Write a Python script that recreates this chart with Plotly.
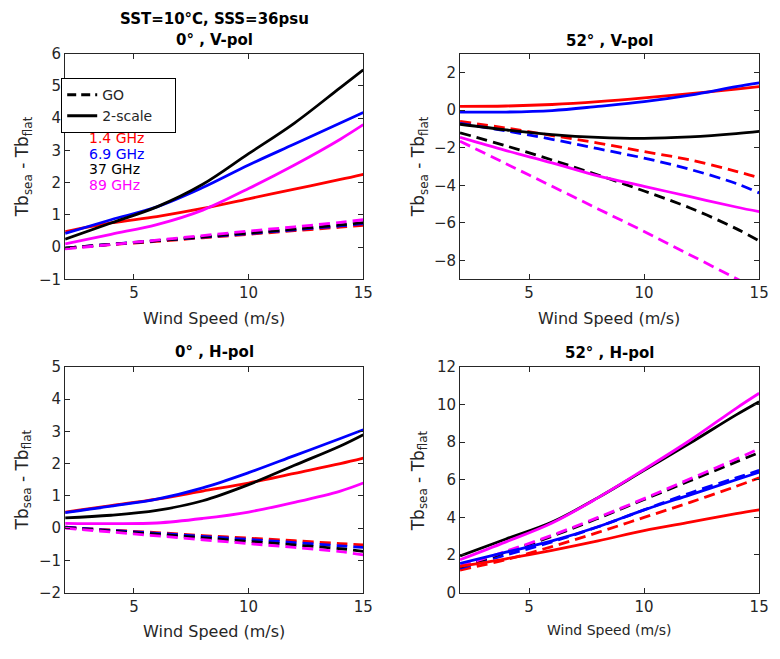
import plotly.graph_objects as go

# ---------------- data ----------------
wind = [2, 4, 6, 8, 10, 12, 14, 15]
freqs = ["1.4 GHz", "6.9 GHz", "37 GHz", "89 GHz"]
colors = ["#ff0000", "#0000ff", "#000000", "#ff00ff"]

# 0 deg, V-pol
v0_2scale_14 = [0.48, 0.75, 0.95, 1.2, 1.5, 1.8, 2.1, 2.26]
v0_2scale_69 = [0.43, 0.85, 1.25, 1.85, 2.55, 3.2, 3.85, 4.18]
v0_2scale_37 = [0.25, 0.75, 1.25, 1.95, 2.9, 3.85, 4.95, 5.5]
v0_2scale_89 = [0.1, 0.4, 0.7, 1.15, 1.82, 2.55, 3.35, 3.8]
v0_go_14 = [-0.03, 0.08, 0.18, 0.29, 0.4, 0.51, 0.62, 0.68]
v0_go_69 = [-0.03, 0.09, 0.2, 0.31, 0.42, 0.54, 0.66, 0.73]
v0_go_37 = [-0.03, 0.09, 0.2, 0.32, 0.44, 0.56, 0.69, 0.76]
v0_go_89 = [-0.05, 0.08, 0.22, 0.36, 0.5, 0.63, 0.77, 0.85]

# 52 deg, V-pol
v52_2scale_14 = [0.2, 0.22, 0.3, 0.45, 0.65, 0.88, 1.12, 1.25]
v52_2scale_69 = [-0.1, -0.1, -0.02, 0.2, 0.45, 0.8, 1.25, 1.45]
v52_2scale_37 = [-0.75, -1.05, -1.3, -1.45, -1.5, -1.42, -1.25, -1.13]
v52_2scale_89 = [-1.45, -2.15, -2.8, -3.5, -4.05, -4.6, -5.15, -5.4]
v52_go_14 = [-0.6, -0.95, -1.35, -1.75, -2.2, -2.65, -3.25, -3.6]
v52_go_69 = [-0.7, -1.1, -1.55, -2.05, -2.55, -3.15, -3.9, -4.4]
v52_go_37 = [-1.2, -1.9, -2.65, -3.45, -4.3, -5.2, -6.3, -6.95]
v52_go_89 = [-1.65, -2.85, -4.05, -5.25, -6.45, -7.7, -8.95, -9.6]

# 0 deg, H-pol
h0_2scale_14 = [0.5, 0.7, 0.9, 1.15, 1.4, 1.7, 2.0, 2.17]
h0_2scale_69 = [0.48, 0.68, 0.9, 1.25, 1.72, 2.25, 2.78, 3.05]
h0_2scale_37 = [0.32, 0.4, 0.55, 0.85, 1.35, 1.95, 2.55, 2.9]
h0_2scale_89 = [0.15, 0.14, 0.16, 0.3, 0.5, 0.8, 1.15, 1.4]
h0_go_14 = [0.03, -0.06, -0.14, -0.23, -0.31, -0.39, -0.48, -0.52]
h0_go_69 = [0.03, -0.07, -0.16, -0.26, -0.35, -0.45, -0.55, -0.6]
h0_go_37 = [0.02, -0.09, -0.19, -0.3, -0.41, -0.52, -0.64, -0.72]
h0_go_89 = [0.0, -0.12, -0.24, -0.36, -0.48, -0.6, -0.73, -0.83]

# 52 deg, H-pol
h52_2scale_14 = [1.4, 1.8, 2.25, 2.75, 3.3, 3.75, 4.2, 4.4]
h52_2scale_69 = [1.55, 2.15, 2.75, 3.5, 4.4, 5.2, 6.0, 6.4]
h52_2scale_37 = [1.95, 2.85, 3.75, 5.05, 6.5, 7.95, 9.45, 10.15]
h52_2scale_89 = [1.75, 2.7, 3.7, 5.05, 6.55, 8.1, 9.8, 10.6]
h52_go_14 = [1.2, 1.75, 2.45, 3.2, 4.0, 4.8, 5.65, 6.1]
h52_go_69 = [1.3, 2.0, 2.7, 3.5, 4.4, 5.3, 6.1, 6.5]
h52_go_37 = [1.35, 2.15, 3.0, 3.95, 4.95, 5.95, 6.95, 7.45]
h52_go_89 = [1.4, 2.2, 3.05, 4.0, 5.0, 6.05, 7.1, 7.65]

panel_titles = ["0° , V-pol", "52° , V-pol", "0° , H-pol", "52° , H-pol"]
suptitle = "SST=10°C, SSS=36psu"
xlabel = "Wind Speed (m/s)"
ylabel = "Tb<sub>sea</sub> - Tb<sub>flat</sub>"
legend_labels = ["GO", "2-scale"]

panels = [
    ([v0_go_14, v0_go_69, v0_go_37, v0_go_89],
     [v0_2scale_14, v0_2scale_69, v0_2scale_37, v0_2scale_89]),
    ([v52_go_14, v52_go_69, v52_go_37, v52_go_89],
     [v52_2scale_14, v52_2scale_69, v52_2scale_37, v52_2scale_89]),
    ([h0_go_14, h0_go_69, h0_go_37, h0_go_89],
     [h0_2scale_14, h0_2scale_69, h0_2scale_37, h0_2scale_89]),
    ([h52_go_14, h52_go_69, h52_go_37, h52_go_89],
     [h52_2scale_14, h52_2scale_69, h52_2scale_37, h52_2scale_89]),
]

# ---------------- figure ----------------
W, H = 780, 659
FONT = "DejaVu Sans"
AX = "#262626"
DASH = "11px,6px"
LW = 2.8

fig = go.Figure()
for i, (go_set, ts_set) in enumerate(panels):
    xa = "x" if i == 0 else f"x{i+1}"
    ya = "y" if i == 0 else f"y{i+1}"
    for k in range(4):
        fig.add_trace(go.Scatter(x=wind, y=go_set[k], mode="lines", xaxis=xa, yaxis=ya,
                                 line=dict(color=colors[k], width=LW, dash=DASH, shape="spline"),
                                 showlegend=False, hoverinfo="skip"))
    for k in range(4):
        fig.add_trace(go.Scatter(x=wind, y=ts_set[k], mode="lines", xaxis=xa, yaxis=ya,
                                 line=dict(color=colors[k], width=LW, shape="spline"),
                                 showlegend=False, hoverinfo="skip"))

# legend entries
fig.add_trace(go.Scatter(x=[None], y=[None], mode="lines", name=legend_labels[0],
                         line=dict(color="black", width=3, dash="9px,5px")))
fig.add_trace(go.Scatter(x=[None], y=[None], mode="lines",
                         name=legend_labels[1] + "\u00a0\u00a0\u00a0\u00a0",
                         line=dict(color="black", width=3)))


def px_x(p):
    return p / W


def px_y(p):
    return 1 - p / H


L_dom = [px_x(66), px_x(368)]
R_dom = [px_x(466), px_x(769)]
T_dom = [px_y(278), px_y(46)]
B_dom = [px_y(600), px_y(368)]

axis_common = dict(showline=True, linecolor=AX, linewidth=1, mirror="ticks",
                   ticks="inside", ticklen=5, tickcolor=AX, showgrid=False, zeroline=False,
                   tickfont=dict(family=FONT, size=15, color=AX))

yranges = [[-1, 6], [-9, 3], [-2, 5], [0, 12]]
ydticks = [1, 2, 1, 2]
doms = [(L_dom, T_dom), (R_dom, T_dom), (L_dom, B_dom), (R_dom, B_dom)]
layout_axes = {}
for i in range(4):
    sfx = "" if i == 0 else str(i + 1)
    anchor_x = "y" if i == 0 else f"y{i+1}"
    anchor_y = "x" if i == 0 else f"x{i+1}"
    layout_axes[f"xaxis{sfx}"] = dict(axis_common, domain=doms[i][0], range=[2, 15],
                                      tickvals=[5, 10, 15], anchor=anchor_x)
    layout_axes[f"yaxis{sfx}"] = dict(axis_common, domain=doms[i][1], range=yranges[i],
                                      dtick=ydticks[i], tick0=0, anchor=anchor_y)

fig.update_layout(**layout_axes)

ann = []
ann.append(dict(text=f"<b>{suptitle}</b>", x=px_x(217), y=px_y(10)))
title_pos = [(217, 32), (617, 33), (217, 353), (617, 354)]
for t, (cx, cy) in zip(panel_titles, title_pos):
    ann.append(dict(text=f"<b>{t}</b>", x=px_x(cx), y=px_y(cy)))
tfont = dict(family=FONT, size=15, color="black")
for a in ann:
    a.update(xref="paper", yref="paper", showarrow=False, xanchor="center",
             yanchor="middle", font=tfont)

xl_pos = [(217, 318, 16), (617, 318, 16), (217, 640, 16), (617, 638, 14)]
for cx, cy, fs in xl_pos:
    ann.append(dict(text=xlabel, x=px_x(cx), y=px_y(cy), xref="paper", yref="paper",
                    showarrow=False, xanchor="center", yanchor="middle",
                    font=dict(family=FONT, size=fs, color=AX)))
yl_pos = [(24, 162), (425, 162), (24, 484), (425, 485)]
for cx, cy in yl_pos:
    ann.append(dict(text=ylabel, x=px_x(cx), y=px_y(cy), xref="paper", yref="paper",
                    showarrow=False, xanchor="center", yanchor="middle", textangle=-90,
                    font=dict(family=FONT, size=17, color=AX)))
f_y = [133, 149, 165, 181]
for name, col, cy in zip(freqs, colors, f_y):
    ann.append(dict(text=name, x=px_x(88), y=px_y(cy), xref="paper", yref="paper",
                    showarrow=False, xanchor="left", yanchor="middle",
                    font=dict(family=FONT, size=14, color=col)))

fig.update_layout(
    annotations=ann,
    width=W, height=H, autosize=False,
    margin=dict(l=0, r=0, t=0, b=0),
    paper_bgcolor="white", plot_bgcolor="white",
    font=dict(family=FONT),
    showlegend=True,
    legend=dict(x=px_x(62), y=px_y(71), xanchor="left", yanchor="top",
                bordercolor="black", borderwidth=1, bgcolor="white",
                font=dict(family=FONT, size=14, color=AX),
                tracegroupgap=0, itemwidth=30),
)

fig.write_html("out.html", config={"displayModeBar": False},
               post_script="document.body.style.margin='0';document.documentElement.style.overflow='hidden';document.body.style.overflow='hidden';")
